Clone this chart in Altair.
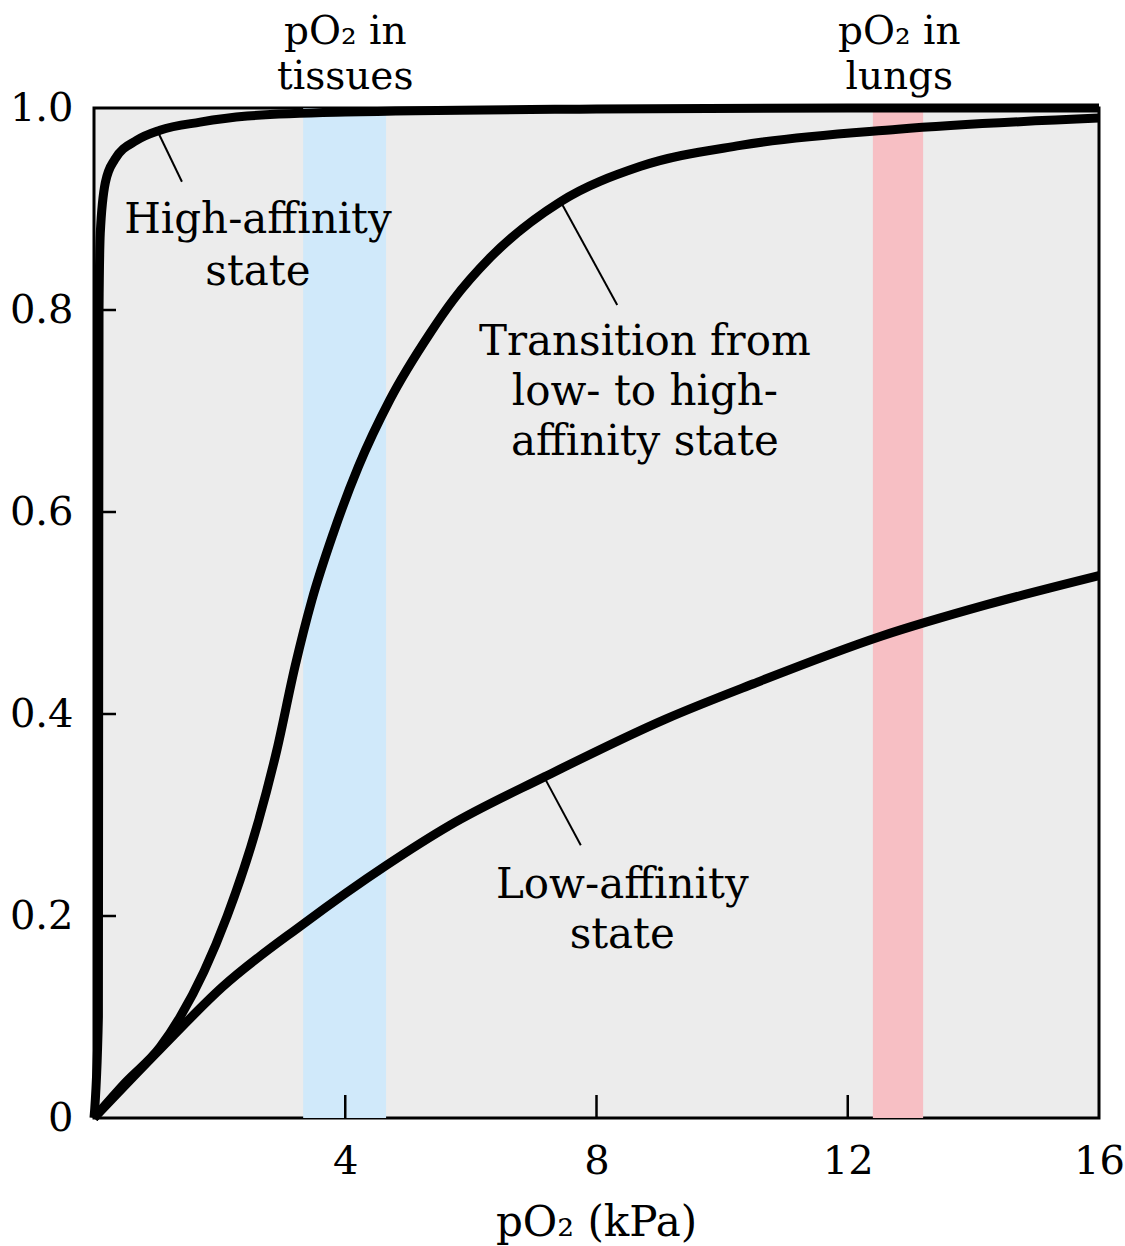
import altair as alt
import pandas as pd

# ---- data ----
high_x = [0, 0.07, 0.075, 0.08, 0.1, 0.18, 0.33, 0.68, 1.05, 1.69, 2.44, 4, 8, 12, 16]
high_y = [0, 0.1, 0.5, 0.8, 0.876, 0.926, 0.949, 0.968, 0.978, 0.986, 0.992, 0.996, 0.999, 1.0, 1.0]

trans_x = [0, 0.5, 1.05, 1.37, 1.75, 2.12, 2.6, 2.91, 3.2, 3.47, 3.81, 4.21, 4.71, 5.35, 5.72, 6.31, 7.42, 8.69, 10.29, 12.8, 16]
trans_y = [0, 0.035, 0.07, 0.10, 0.145, 0.2, 0.29, 0.364, 0.447, 0.513, 0.579, 0.645, 0.711, 0.777, 0.81, 0.852, 0.907, 0.942, 0.963, 0.979, 0.99]

low_x = [0, 1.05, 2.05, 3.33, 4.65, 5.67, 7.18, 9.1, 10.5, 12.53, 14.2, 16]
low_y = [0, 0.068, 0.13, 0.192, 0.25, 0.29, 0.338, 0.395, 0.43, 0.477, 0.508, 0.537]

band_start = [3.33, 12.4]
band_end = [4.65, 13.2]
band_name = ["tissues", "lungs"]
band_color = ["#d0e9fa", "#f7bfc4"]
band_label_x = [4.0, 12.82]
band_label_1 = ["pO\u2082 in", "pO\u2082 in"]
band_label_2 = ["tissues", "lungs"]

x_ticks = [4, 8, 12]
x_labels = [4, 8, 12, 16]
y_ticks = [0.2, 0.4, 0.6, 0.8]
y_labels = [0, 0.2, 0.4, 0.6, 0.8, 1.0]

# annotation text lines (x centre, baseline y)
ann_text = ["High-affinity", "state",
            "Transition from", "low- to high-", "affinity state",
            "Low-affinity", "state"]
ann_x = [2.61, 2.61, 8.77, 8.77, 8.77, 8.41, 8.41]
ann_y = [0.876, 0.825, 0.755, 0.706, 0.656, 0.218, 0.168]

# leader lines
lead_x1 = [1.02, 7.45, 7.18]
lead_y1 = [0.976, 0.905, 0.336]
lead_x2 = [1.4, 8.33, 7.75]
lead_y2 = [0.927, 0.805, 0.270]

W, H = 1005, 1010
FONT = "DejaVu Serif"
FS = 42
TFS = 40
BFS = 39

curves = pd.DataFrame(
    [{"x": a, "y": b, "s": "high"} for a, b in zip(high_x, high_y)]
    + [{"x": a, "y": b, "s": "trans"} for a, b in zip(trans_x, trans_y)]
    + [{"x": a, "y": b, "s": "low"} for a, b in zip(low_x, low_y)]
)
bands = pd.DataFrame({"start": band_start, "end": band_end, "name": band_name,
                      "color": band_color, "lx": band_label_x,
                      "l1": band_label_1, "l2": band_label_2})
ann = pd.DataFrame({"t": ann_text, "x": ann_x, "y": ann_y})
leads = pd.DataFrame({"x": lead_x1, "y": lead_y1, "x2": lead_x2, "y2": lead_y2})
xt = pd.DataFrame({"x": x_ticks})
yt = pd.DataFrame({"y": y_ticks})

xs = alt.Scale(domain=[0, 16], nice=False, zero=False)
ys = alt.Scale(domain=[0, 1], nice=False, zero=False)

base_x_axis = alt.Axis(values=x_labels, ticks=False, tickSize=0, domain=False, grid=False,
                       labelFont=FONT, labelFontSize=TFS, labelColor="black", format="d",
                       labelBaseline="alphabetic", labelPadding=55, title=None,
                       labelFlush=False, labelOverlap=False)
base_y_axis = alt.Axis(values=y_labels, ticks=False, tickSize=0, domain=False, grid=False,
                       labelFont=FONT, labelFontSize=TFS, labelColor="black",
                       labelPadding=21, title=None, labelFlush=False, labelOverlap=False,
                       labelExpr="datum.value == 0 ? '0' : format(datum.value, '.1f')")

band_layer = alt.Chart(bands).mark_rect().encode(
    x=alt.X("start:Q", scale=xs, axis=base_x_axis),
    x2="end:Q",
    y=alt.value(0),
    y2=alt.value(H),
    color=alt.Color("color:N", scale=None, legend=None),
)

band_text1 = alt.Chart(bands).mark_text(font=FONT, fontSize=BFS, color="black",
                                         baseline="alphabetic", align="center").encode(
    x=alt.X("lx:Q", scale=xs), y=alt.value(-64), text="l1:N")
band_text2 = alt.Chart(bands).mark_text(font=FONT, fontSize=BFS, color="black",
                                         baseline="alphabetic", align="center").encode(
    x=alt.X("lx:Q", scale=xs), y=alt.value(-19), text="l2:N")

xtick_layer = alt.Chart(xt).mark_rule(color="black", strokeWidth=2.5).encode(
    x=alt.X("x:Q", scale=xs), y=alt.value(H), y2=alt.value(H - 23))
ytick_layer = alt.Chart(yt).mark_rule(color="black", strokeWidth=2.5).encode(
    y=alt.Y("y:Q", scale=ys, axis=base_y_axis), x=alt.value(0), x2=alt.value(22))

curve_layer = alt.Chart(curves).mark_line(strokeWidth=9, interpolate="monotone",
                                          strokeCap="butt", strokeJoin="round").encode(
    x=alt.X("x:Q", scale=xs),
    y=alt.Y("y:Q", scale=ys),
    detail="s:N",
    color=alt.value("black"),
)

lead_layer = alt.Chart(leads).mark_rule(color="black", strokeWidth=2).encode(
    x=alt.X("x:Q", scale=xs), y=alt.Y("y:Q", scale=ys), x2="x2:Q", y2="y2:Q")

ann_layer = alt.Chart(ann).mark_text(font=FONT, fontSize=FS, color="black",
                                     baseline="alphabetic", align="center").encode(
    x=alt.X("x:Q", scale=xs), y=alt.Y("y:Q", scale=ys), text="t:N")

title_layer = alt.Chart(pd.DataFrame({"x": [8], "t": ["pO\u2082 (kPa)"]})).mark_text(
    font=FONT, fontSize=FS, color="black", baseline="alphabetic", align="center").encode(
    x=alt.X("x:Q", scale=xs), y=alt.value(H + 118), text="t:N")

chart = alt.layer(
    band_layer, xtick_layer, ytick_layer, curve_layer, lead_layer, ann_layer,
    band_text1, band_text2, title_layer
).properties(
    width=W, height=H,
    autosize=alt.AutoSizeParams(type="none"),
    padding={"left": 94, "top": 108, "right": 26, "bottom": 128},
    background="white",
).configure_view(
    fill="#ececec", stroke="black", strokeWidth=3,
)

chart.save("out.html", embed_options={"renderer": "svg", "actions": False})
